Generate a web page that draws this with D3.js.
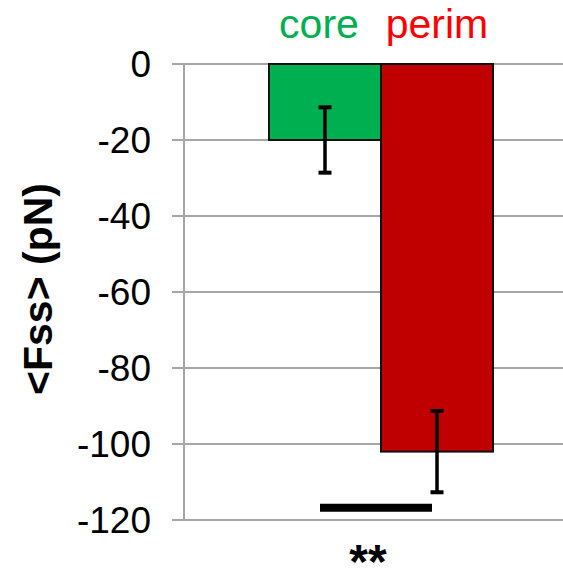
<!DOCTYPE html>
<html>
<head>
<meta charset="utf-8">
<script src="https://cdn.jsdelivr.net/npm/d3@7"></script>
<style>
    html, body { margin: 0; padding: 0; background: #fff; }
    svg { display: block; font-family: 'Liberation Sans', Arial, sans-serif; }
</style>
</head>
<body>
<svg id="bar-chart" width="563" height="570"></svg>
<script>
// chart values
const groups = ['core', 'perim'];
const means = [-20, -102];
const errors = [8.6, 10.7];
const yTicks = [0, -20, -40, -60, -80, -100, -120];
const sigLevel = -116.8;
const sigLabel = '**';
const yTitle = '<Fss> (pN)';

const groupColors = { core: '#00b050', perim: '#c00000' };
const labelColors = { core: '#00b050', perim: '#ff0000' };

const svg = d3.select('#bar-chart');

const axisX = 184;
const y = d3.scaleLinear().domain([-120, 0]).range([520, 64]);
const x = d3.scaleBand().domain(groups).range([269, 493]).padding(0);

// gridlines + left ticks
svg.append('g')
    .selectAll('line')
    .data(yTicks)
    .enter()
    .append('line')
    .attr('x1', axisX - 12)
    .attr('x2', 563)
    .attr('y1', (d) => y(d))
    .attr('y2', (d) => y(d))
    .attr('stroke', '#a6a6a6')
    .attr('stroke-width', 2);

svg.append('line')
    .attr('x1', axisX).attr('x2', axisX)
    .attr('y1', y(0)).attr('y2', y(-120))
    .attr('stroke', '#a6a6a6')
    .attr('stroke-width', 2);

// tick labels
svg.append('g')
    .selectAll('text')
    .data(yTicks)
    .enter()
    .append('text')
    .text((d) => d)
    .attr('x', 151)
    .attr('y', (d) => y(d))
    .attr('dy', '0.36em')
    .attr('text-anchor', 'end')
    .style('font-size', '37px')
    .attr('fill', '#000');

// bars
svg.append('g')
    .selectAll('rect')
    .data(groups)
    .enter()
    .append('rect')
    .attr('x', (d) => x(d))
    .attr('y', y(0))
    .attr('width', x.bandwidth())
    .attr('height', (d, i) => y(means[i]) - y(0))
    .attr('fill', (d) => groupColors[d])
    .attr('stroke', '#111')
    .attr('stroke-width', 2);

// error bars
const err = svg.append('g').attr('stroke', '#000');
groups.forEach((g, i) => {
    const cx = x(g) + x.bandwidth() / 2;
    const top = y(means[i] + errors[i]);
    const bot = y(means[i] - errors[i]);
    err.append('line')
        .attr('x1', cx).attr('x2', cx)
        .attr('y1', top).attr('y2', bot)
        .attr('stroke-width', 3.5);
    [top, bot].forEach((yy) => {
        err.append('line')
            .attr('x1', cx - 6.5).attr('x2', cx + 6.5)
            .attr('y1', yy).attr('y2', yy)
            .attr('stroke-width', 4);
    });
});

// group labels above
svg.append('g')
    .selectAll('text')
    .data(groups)
    .enter()
    .append('text')
    .text((d) => d)
    .attr('x', (d, i) => x(d) + x.bandwidth() / 2 - (i === 0 ? 6 : 0))
    .attr('y', 38)
    .attr('text-anchor', 'middle')
    .style('font-size', '41px')
    .attr('fill', (d) => labelColors[d]);

// significance bar
const c0 = x(groups[0]) + x.bandwidth() / 2;
const c1 = x(groups[1]) + x.bandwidth() / 2;
svg.append('line')
    .attr('x1', c0 - 5).attr('x2', c1 - 5)
    .attr('y1', y(sigLevel)).attr('y2', y(sigLevel))
    .attr('stroke', '#000')
    .attr('stroke-width', 8);

svg.append('text')
    .text(sigLabel)
    .attr('x', (c0 + c1) / 2 - 13)
    .attr('y', 578)
    .attr('text-anchor', 'middle')
    .attr('font-weight', 'bold')
    .style('font-size', '48px')
    .attr('fill', '#000');

// y title
svg.append('text')
    .text(yTitle)
    .attr('transform', 'translate(52, 289) rotate(-90)')
    .attr('text-anchor', 'middle')
    .attr('font-weight', 'bold')
    .style('font-size', '41px')
    .attr('fill', '#000');
</script>
</body>
</html>
